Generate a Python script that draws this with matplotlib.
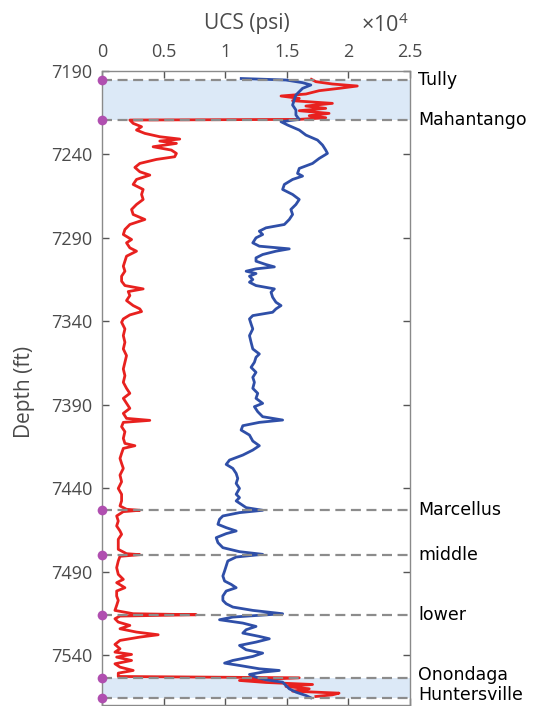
import numpy as np
import matplotlib
matplotlib.use("Agg")
import matplotlib.pyplot as plt
from matplotlib.transforms import blended_transform_factory

# Depth (ft) and UCS (psi) samples for the two logs
red_depth = [7195.0, 7196.4, 7197.8, 7199.0, 7200.4, 7201.8, 7203.8, 7205.0, 7206.4, 7207.8,
             7209.4, 7211.0, 7212.4, 7213.8, 7215.4, 7216.8, 7218.0, 7219.0, 7219.4, 7221.4,
             7223.4, 7225.4, 7227.4, 7229.4, 7230.8, 7232.0, 7233.4, 7235.4, 7237.4, 7239.4,
             7241.4, 7243.0, 7245.4, 7247.8, 7250.4, 7252.4, 7255.0, 7258.0, 7261.0, 7264.0,
             7267.0, 7270.0, 7273.0, 7276.0, 7279.0, 7282.0, 7285.0, 7288.0, 7291.0, 7293.0,
             7296.0, 7298.0, 7301.0, 7304.0, 7307.0, 7310.0, 7313.0, 7316.0, 7318.6, 7320.6,
             7322.2, 7324.6, 7327.6, 7330.6, 7332.6, 7334.2, 7336.2, 7338.6, 7340.6, 7344.6,
             7348.6, 7352.6, 7356.6, 7360.6, 7364.6, 7368.6, 7372.6, 7376.6, 7380.2, 7383.2,
             7386.2, 7389.2, 7392.2, 7395.2, 7398.2, 7399.4, 7400.6, 7403.2, 7406.2, 7410.2,
             7413.2, 7414.6, 7416.2, 7419.2, 7422.2, 7425.2, 7428.2, 7432.2, 7436.2, 7440.2,
             7443.7, 7447.7, 7450.7, 7452.7, 7453.3, 7454.1, 7456.7, 7459.7, 7462.7, 7465.7,
             7467.7, 7470.7, 7473.7, 7476.7, 7479.3, 7479.9, 7480.9, 7483.7, 7487.7, 7491.7,
             7494.7, 7496.7, 7499.7, 7501.7, 7504.7, 7507.3, 7510.3, 7513.3, 7515.3, 7515.9,
             7516.7, 7518.3, 7520.3, 7522.3, 7524.3, 7526.3, 7527.9, 7529.3, 7531.3, 7533.7,
             7536.3, 7538.3, 7539.7, 7541.3, 7543.3, 7545.3, 7547.3, 7549.3, 7550.9, 7552.9,
             7553.7, 7555.3, 7556.5, 7557.7, 7558.9, 7560.3, 7561.7, 7562.9, 7563.9, 7564.9]
red_ucs = [17000, 17360, 18700, 20720, 19240, 17630, 16550, 14530, 16010, 15470,
           18700, 16550, 18160, 16010, 18430, 16820, 18160, 16010, 2260, 2530,
           3210, 2800, 3480, 4690, 6310, 4690, 6040, 4150, 5630, 6040,
           5900, 4420, 3070, 2670, 3070, 3880, 2800, 2530, 3340, 3210,
           3340, 2800, 2400, 2530, 3480, 2260, 1860, 1730, 2400, 1990,
           2260, 2800, 1990, 1860, 1730, 1860, 1590, 1590, 1860, 3340,
           2130, 2260, 1990, 2530, 3070, 3210, 2260, 1730, 1590, 1860,
           1730, 1860, 1730, 1990, 1860, 1730, 1860, 1730, 1990, 2260,
           1730, 1990, 2260, 1730, 1990, 3880, 1730, 1590, 1860, 1730,
           1860, 2670, 1730, 1590, 1460, 1590, 1730, 1460, 1590, 1320,
           1590, 1590, 1460, 1990, 3070, 1730, 1190, 1320, 1190, 1460,
           1590, 1320, 1320, 1320, 1990, 3070, 1460, 1320, 1190, 1320,
           1730, 1190, 1860, 1190, 1190, 1320, 1190, 1050, 2530, 7650,
           1460, 1050, 1320, 2260, 1460, 2800, 4560, 3070, 1460, 1050,
           1460, 1050, 2400, 1190, 2400, 1050, 1460, 2530, 1320, 1320,
           16010, 11160, 13310, 17090, 14930, 16820, 15470, 19240, 18700, 17360]

blue_depth = [7194.5, 7195.4, 7197.0, 7198.4, 7200.4, 7202.4, 7204.4, 7207.4, 7210.4, 7213.4,
              7216.4, 7219.0, 7220.4, 7222.4, 7225.4, 7228.4, 7231.4, 7234.4, 7237.4, 7239.4,
              7242.4, 7245.4, 7248.4, 7251.4, 7253.0, 7255.0, 7258.0, 7261.0, 7264.0, 7267.0,
              7270.0, 7273.0, 7276.0, 7279.0, 7282.0, 7284.0, 7286.0, 7288.0, 7290.0, 7293.0,
              7295.0, 7296.6, 7298.0, 7300.0, 7302.0, 7304.0, 7306.0, 7307.4, 7308.6, 7310.0,
              7311.4, 7313.0, 7315.0, 7316.6, 7318.6, 7320.6, 7322.6, 7325.6, 7328.6, 7330.6,
              7332.6, 7334.6, 7336.6, 7338.6, 7341.6, 7344.6, 7348.6, 7352.6, 7356.6, 7359.6,
              7361.6, 7364.6, 7367.6, 7370.6, 7373.6, 7376.6, 7380.2, 7383.2, 7386.2, 7389.2,
              7391.2, 7394.2, 7397.2, 7399.2, 7400.6, 7402.6, 7405.2, 7408.2, 7411.8, 7414.6,
              7417.2, 7420.2, 7423.2, 7425.8, 7428.2, 7431.2, 7434.2, 7437.2, 7440.2, 7443.7,
              7445.7, 7447.7, 7449.7, 7451.7, 7453.3, 7454.7, 7456.7, 7458.7, 7461.7, 7463.7,
              7465.7, 7467.3, 7469.7, 7472.7, 7475.7, 7478.1, 7479.7, 7481.3, 7483.7, 7486.7,
              7489.7, 7492.7, 7495.7, 7497.7, 7499.7, 7501.7, 7504.7, 7507.3, 7509.3, 7511.3,
              7513.3, 7515.3, 7517.3, 7518.9, 7520.9, 7522.9, 7524.9, 7526.9, 7528.9, 7530.3,
              7532.3, 7534.3, 7536.9, 7538.9, 7540.9, 7543.3, 7544.9, 7546.3, 7548.3, 7549.3,
              7550.3, 7551.7, 7553.3, 7554.9, 7556.3, 7558.3, 7560.3, 7562.3, 7564.3, 7565.7]
blue_ucs = [11300, 14930, 16280, 16950, 16280, 16010, 15740, 15600, 15470, 15740,
            15740, 16010, 14530, 15070, 16010, 16550, 17490, 17900, 18160, 18300,
            17630, 17090, 16010, 15870, 16280, 15470, 14800, 14660, 15470, 16010,
            15740, 15330, 15470, 15200, 14800, 13310, 12770, 13040, 12500, 12240,
            12770, 15200, 14120, 13040, 12500, 12500, 13310, 13990, 12500, 11700,
            12500, 11970, 12240, 11970, 12500, 13990, 13720, 13850, 14120, 14530,
            14120, 13850, 12240, 11970, 12100, 12240, 11970, 12100, 12240, 12770,
            12500, 12370, 12100, 12500, 12240, 12370, 12240, 12640, 12500, 13040,
            12370, 12640, 13040, 14660, 12770, 11430, 11290, 11970, 12240, 12770,
            12240, 11430, 10350, 10080, 10620, 10890, 11020, 10890, 11160, 10890,
            11160, 10890, 11290, 11700, 13040, 11160, 9810, 9540, 9410, 10080,
            10890, 10080, 9270, 9410, 9810, 11160, 13040, 10890, 10210, 10080,
            9950, 9810, 9950, 10480, 10890, 10080, 9810, 9810, 10080, 10620,
            12240, 14660, 10620, 9540, 11430, 12500, 11700, 11430, 12770, 13580,
            12500, 11160, 11700, 13040, 12240, 10620, 9950, 11160, 12770, 14390,
            13040, 11970, 12500, 13310, 14660, 14930, 15200, 15740, 16550, 16950]

# Formation tops (ft) and the depths their names are written at
formations = ["Tully", "Mahantango", "Marcellus", "middle", "lower", "Onondaga", "Huntersville"]
tops = [7195.4, 7219.4, 7453.0, 7480.0, 7516.0, 7554.0, 7566.0]
name_depths = [7195.4, 7219.4, 7453.0, 7480.0, 7516.0, 7552.0, 7564.3]
shaded = [(7195.4, 7219.4), (7554.0, 7566.0)]

depth_ticks = [7190, 7240, 7290, 7340, 7390, 7440, 7490, 7540]
ucs_ticks = [0, 5000, 10000, 15000, 20000, 25000]
ucs_tick_labels = ["0", "0.5", "1", "1.5", "2", "2.5"]

plt.rcParams["font.family"] = ["Open Sans", "DejaVu Sans"]
plt.rcParams["mathtext.fontset"] = "custom"
plt.rcParams["mathtext.rm"] = "Open Sans"

grey = "#4a4a4a"
fig = plt.figure(figsize=(5.41, 7.06), dpi=100)
ax = fig.add_axes([0.18854, 0.00142, 0.56932, 0.89802])

for lo, hi in shaded:
    ax.axhspan(lo, hi, color="#dce9f7", zorder=0, lw=0)

ax.plot(red_ucs, red_depth, color="#e8211f", lw=2.0, zorder=3, solid_joinstyle="round")
ax.plot(blue_ucs, blue_depth, color="#2f4fa8", lw=2.0, zorder=3, solid_joinstyle="round")

for d in tops:
    ax.axhline(d, color="#8c8c8c", lw=1.6, ls=(0, (4.5, 2.5)), zorder=4)
ax.plot(np.zeros(len(tops)), tops, "o", color="#b04fb0", ms=7, mec="none",
        clip_on=False, zorder=6)

trans = blended_transform_factory(ax.transAxes, ax.transData)
for name, d in zip(formations, name_depths):
    ax.text(1.026, d, name, transform=trans, ha="left", va="center",
            fontsize=12.5, family="DejaVu Sans", color="black")

ax.set_xlim(0, 25000)
ax.set_ylim(7570, 7190)
ax.set_xticks(ucs_ticks)
ax.set_xticklabels(ucs_tick_labels)
ax.set_yticks(depth_ticks)

ax.xaxis.tick_top()
ax.tick_params(direction="in", top=True, bottom=True, left=True, right=True,
               labeltop=True, labelbottom=False, length=5, width=1,
               color="#555555", labelcolor=grey, labelsize=13)
ax.tick_params(axis="x", pad=7)
ax.tick_params(axis="y", pad=7)
for s in ax.spines.values():
    s.set_color("#8a8a8a")
    s.set_linewidth(1.0)

ax.set_xlabel("UCS (psi)", fontsize=15, color=grey)
ax.xaxis.set_label_position("top")
ax.xaxis.label.set_va("center")
ax.xaxis.set_label_coords(0.47, 1.0757)

ax.set_ylabel("Depth (ft)", fontsize=15, color=grey)
ax.yaxis.label.set_va("center")
ax.yaxis.set_label_coords(-0.25, 0.494)

ax.text(0.995, 1.073, r"$\mathregular{\times 10^{4}}$", transform=ax.transAxes,
        ha="right", va="center", fontsize=15.5, color=grey)

fig.savefig("out.png", dpi=100)
